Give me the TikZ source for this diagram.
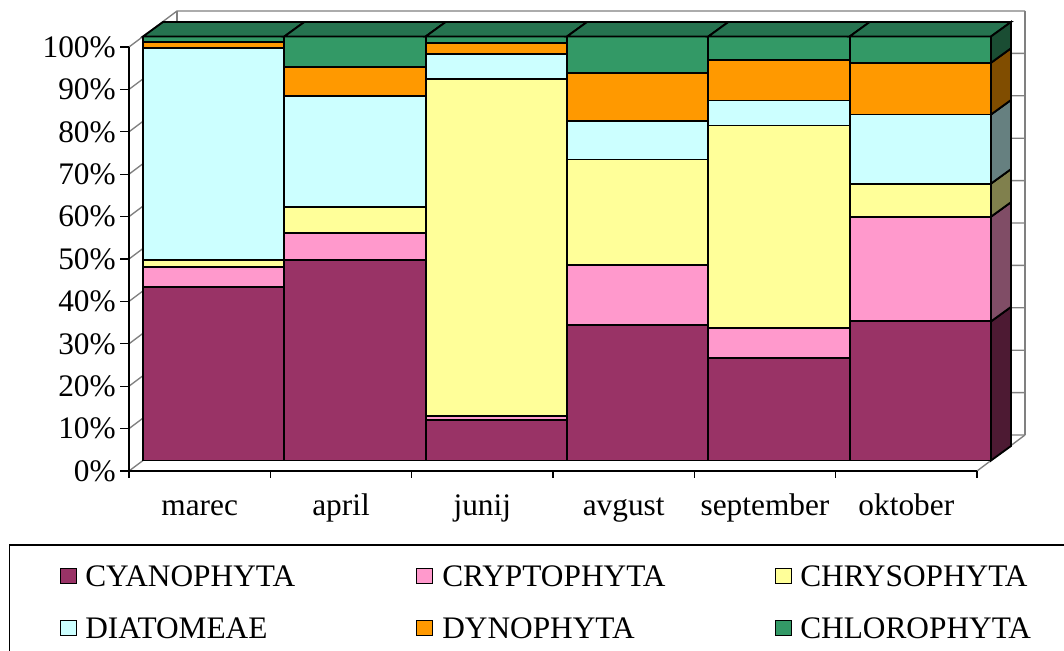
\documentclass[tikz,border=0pt]{standalone}
\usepackage{fontspec}
\setmainfont{Liberation Serif}
\definecolor{cyano}{HTML}{993366}
\definecolor{cyanoside}{HTML}{4D1A33}
\definecolor{crypto}{HTML}{FF99CC}
\definecolor{cryptoside}{HTML}{804D66}
\definecolor{chryso}{HTML}{FFFF99}
\definecolor{chrysoside}{HTML}{80804D}
\definecolor{diatom}{HTML}{CCFFFF}
\definecolor{diatomside}{HTML}{668080}
\definecolor{dyno}{HTML}{FF9900}
\definecolor{dynoside}{HTML}{804D00}
\definecolor{chloro}{HTML}{339966}
\definecolor{chloroside}{HTML}{1A4D33}
\definecolor{chlorotop}{HTML}{267350}
\definecolor{gridgray}{HTML}{808080}
\tikzset{
  seg/.style={draw=black, line width=1.4pt, line join=miter},
  gridln/.style={draw=gridgray, line width=1pt},
  axisln/.style={draw=black, line width=1pt},
  lbl/.style={font=\fontsize{23.5}{28}\selectfont, inner sep=0pt},
  legsq/.style={draw=black, line width=0.8pt, minimum width=11.5pt, minimum height=11.5pt, inner sep=0pt},
}
\newcommand\drawcol[7]{%
  \pgfmathsetmacro\xa{143+141.33*#1}
  \pgfmathsetmacro\xb{\xa+141.33}
  \foreach \t/\c [remember=\t as \prev (initially 0)] in {#2/cyano,#3/crypto,#4/chryso,#5/diatom,#6/dyno,#7/chloro}{
    \pgfmathsetmacro\ya{460.5-4.24*\prev}
    \pgfmathsetmacro\yb{460.5-4.24*\t}
    \draw[seg, fill=\c] (\xa,\ya) rectangle (\xb,\yb);
  }
  \draw[seg, fill=chlorotop] (\xa,36.5) -- (\xa+20,22) -- (\xb+20,22) -- (\xb,36.5) -- cycle;
}
\newcommand\drawside[6]{%
  \pgfmathsetmacro\xb{143+141.33*6}
  \foreach \t/\c [remember=\t as \prev (initially 0)] in {#1/cyanoside,#2/cryptoside,#3/chrysoside,#4/diatomside,#5/dynoside,#6/chloroside}{
    \pgfmathsetmacro\ya{460.5-4.24*\prev}
    \pgfmathsetmacro\yb{460.5-4.24*\t}
    \draw[seg, fill=\c] (\xb,\ya) -- (\xb+20,\ya-14.5) -- (\xb+20,\yb-14.5) -- (\xb,\yb) -- cycle;
  }
}
\begin{document}
\begin{tikzpicture}[x=0.75pt,y=-0.75pt]
\useasboundingbox (0,0) rectangle (1064,650);
\clip (0,0) rectangle (1064,650);
\fill[white] (0,0) rectangle (1064,650);
% walls
\foreach \k in {0,...,10}{
  \draw[gridln] (129,471-42.4*\k) -- (177,435-42.4*\k) -- (1025,435-42.4*\k);
}
\draw[gridln] (177,11) -- (177,435);
\draw[gridln] (1025,11) -- (1025,435);
\draw[gridln] (977,471) -- (1025,435);
% bars
\drawcol{0}{41.0}{45.6}{47.3}{97.3}{98.8}{100}
\drawcol{1}{47.2}{53.7}{59.7}{85.9}{92.8}{100}
\drawcol{2}{9.6}{10.4}{89.9}{95.8}{98.5}{100}
\drawcol{3}{32.0}{46.2}{71.0}{80.0}{91.3}{100}
\drawcol{4}{24.2}{31.2}{79.0}{84.9}{94.5}{100}
\drawcol{5}{32.8}{57.5}{65.3}{81.6}{93.8}{100}
\drawside{32.8}{57.5}{65.3}{81.6}{93.8}{100}
% axes
\draw[axisln] (129,47) -- (129,471) -- (977,471);
\foreach \k in {0,...,10}{
  \draw[axisln] (120,471-42.4*\k) -- (129,471-42.4*\k);
}
\foreach \k in {0,...,6}{
  \draw[axisln] (129+141.33*\k,471) -- (129+141.33*\k,478);
}
% y labels
\foreach \k in {0,...,10}{
  \pgfmathtruncatemacro\pc{10*\k}
  \node[lbl, anchor=east] (y\k) at (116,471-42.4*\k) {\pc\%};
}
% x labels
\foreach \n [count=\i from 0] in {marec,april,junij,avgust,september,oktober}{
  \node[lbl, anchor=base] (x\i) at (129+141.33*\i+70.67,515) {\n};
}
% legend
\draw[draw=black, line width=0.9pt] (9.5,545) rectangle (1075,665);
\node[legsq, fill=cyano]  (s1) at (68.5,576) {};
\node[legsq, fill=crypto] (s2) at (424.5,576) {};
\node[legsq, fill=chryso] (s3) at (783.5,576) {};
\node[legsq, fill=diatom] (s4) at (68.5,628) {};
\node[legsq, fill=dyno]   (s5) at (424.5,628) {};
\node[legsq, fill=chloro] (s6) at (783.5,628) {};
\node[lbl, anchor=base west] (t1) at (85,586) {CYANOPHYTA};
\node[lbl, anchor=base west] (t2) at (442,586) {CRYPTOPHYTA};
\node[lbl, anchor=base west] (t3) at (800,586) {CHRYSOPHYTA};
\node[lbl, anchor=base west] (t4) at (85,638) {DIATOMEAE};
\node[lbl, anchor=base west] (t5) at (442,638) {DYNOPHYTA};
\node[lbl, anchor=base west] (t6) at (800,638) {CHLOROPHYTA};
\end{tikzpicture}
\end{document}
